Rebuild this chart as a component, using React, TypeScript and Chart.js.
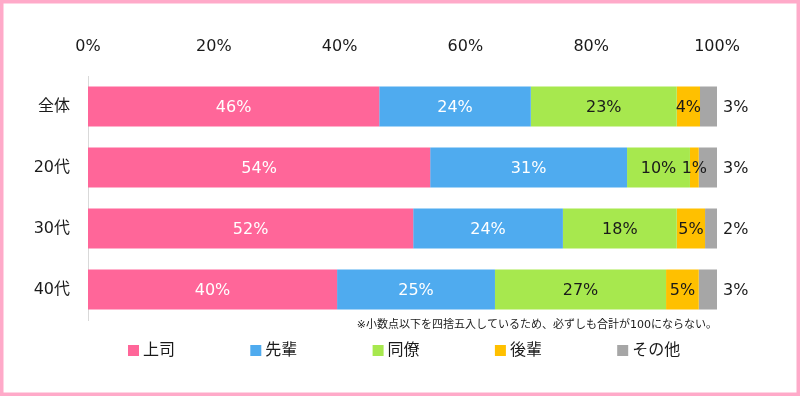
import React, { useEffect, useRef } from 'react';
import { Chart, registerables } from 'chart.js';

Chart.register(...registerables);

const categories = ['全体', '20代', '30代', '40代'];
const seriesNames = ['上司', '先輩', '同僚', '後輩', 'その他'];
const bossValues = [46.3, 54.4, 51.7, 39.6];
const seniorValues = [24.1, 31.3, 23.8, 25.1];
const peerValues = [23.2, 10.0, 18.1, 27.2];
const juniorValues = [3.7, 1.4, 4.5, 5.2];
const otherValues = [2.7, 2.9, 1.9, 2.9];
const tickValues = [0, 20, 40, 60, 80, 100];
const noteText = '※小数点以下を四捨五入しているため、必ずしも合計が100にならない。';

const seriesColors = ['#FF6699', '#4FABEF', '#A7E84E', '#FFC000', '#A6A6A6'];
const labelColors = ['#FFFFFF', '#FFFFFF', '#1A1A1A', '#1A1A1A', '#1A1A1A'];
const FONT = "'DejaVu Sans', 'Noto Sans CJK JP', sans-serif";
const TEXT = '#1A1A1A';

const frame = {
  id: 'frame',
  beforeDraw(chart: any) {
    const { ctx, width, height } = chart;
    ctx.save();
    ctx.fillStyle = '#FFFFFF';
    ctx.fillRect(0, 0, width, height);
    ctx.strokeStyle = '#FFAAC9';
    ctx.lineWidth = 7;
    ctx.strokeRect(0, 0, width, height);
    ctx.restore();
  },
};

const barLabels = {
  id: 'barLabels',
  afterDatasetsDraw(chart: any) {
    const { ctx } = chart;
    const last = chart.data.datasets.length - 1;
    ctx.save();
    ctx.font = `16px ${FONT}`;
    ctx.textBaseline = 'middle';
    chart.data.datasets.forEach((ds: any, di: number) => {
      const meta = chart.getDatasetMeta(di);
      meta.data.forEach((bar: any, i: number) => {
        const txt = Math.round(ds.data[i]) + '%';
        const { x, y, base } = bar.getProps(['x', 'y', 'base'], true);
        if (di === last) {
          ctx.fillStyle = TEXT;
          ctx.textAlign = 'left';
          ctx.fillText(txt, x + 6, y + 1);
        } else {
          ctx.fillStyle = labelColors[di];
          ctx.textAlign = 'center';
          ctx.fillText(txt, (x + base) / 2, y + 1);
        }
      });
    });
    ctx.restore();
  },
};

const legendAndNote = {
  id: 'legendAndNote',
  afterDraw(chart: any) {
    const { ctx, chartArea } = chart;
    ctx.save();
    ctx.font = `11px ${FONT}`;
    ctx.fillStyle = TEXT;
    ctx.textAlign = 'right';
    ctx.textBaseline = 'middle';
    ctx.fillText(noteText, chartArea.right, 325);
    ctx.font = `16px ${FONT}`;
    ctx.textAlign = 'left';
    chart.data.datasets.forEach((ds: any, i: number) => {
      const x0 = 128 + i * 122.3;
      ctx.fillStyle = ds.backgroundColor;
      ctx.fillRect(x0, 345, 11, 11);
      ctx.fillStyle = TEXT;
      ctx.fillText(ds.label, x0 + 15, 351);
    });
    ctx.restore();
  },
};

export default function App() {
  const ref = useRef<HTMLCanvasElement | null>(null);
  useEffect(() => {
    document.body.style.margin = '0';
    const seriesData = [bossValues, seniorValues, peerValues, juniorValues, otherValues];
    const chart = new Chart(ref.current as HTMLCanvasElement, {
      type: 'bar',
      data: {
        labels: categories,
        datasets: seriesNames.map((name, i) => ({
          label: name,
          data: seriesData[i],
          backgroundColor: seriesColors[i],
          borderWidth: 0,
          barPercentage: 0.656,
          categoryPercentage: 1,
        })),
      },
      options: {
        indexAxis: 'y',
        responsive: false,
        animation: false,
        devicePixelRatio: 1,
        layout: { padding: { top: 0, left: 0, right: 83, bottom: 76 } },
        plugins: { legend: { display: false }, tooltip: { enabled: false } },
        scales: {
          x: {
            type: 'linear',
            position: 'top',
            stacked: true,
            min: 0,
            max: 100,
            afterBuildTicks(scale: any) {
              scale.ticks = tickValues.map((v) => ({ value: v }));
            },
            afterFit(scale: any) {
              scale.height = 76;
            },
            ticks: {
              callback: (v: any) => v + '%',
              font: { family: FONT, size: 16 },
              color: TEXT,
              padding: 20,
              maxRotation: 0,
            },
            grid: { display: false, drawTicks: false },
            border: { display: false },
          },
          y: {
            type: 'category',
            stacked: true,
            afterFit(scale: any) {
              scale.width = 88;
            },
            ticks: {
              font: { family: FONT, size: 16 },
              color: TEXT,
              padding: 18,
            },
            grid: { display: false, drawTicks: false },
            border: { display: true, color: '#D9D9D9', width: 1 },
          },
        },
      },
      plugins: [frame, barLabels, legendAndNote],
    } as any);
    return () => chart.destroy();
  }, []);
  return (
    <div style={{ width: 800, height: 396 }}>
      <canvas ref={ref} width={800} height={396} style={{ display: 'block' }} />
    </div>
  );
}
